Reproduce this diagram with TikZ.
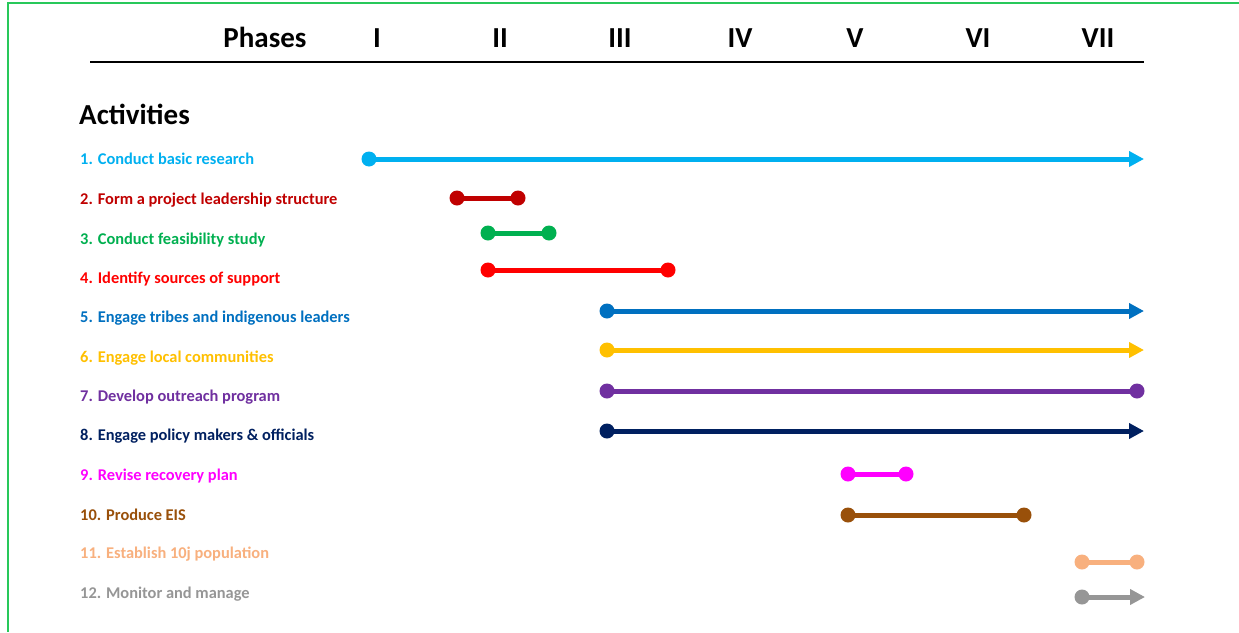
\documentclass[tikz,border=0pt]{standalone}
\usepackage{fontspec}
\setmainfont{Carlito}
\usetikzlibrary{arrows.meta}
\definecolor{cA}{RGB}{0,176,240}
\definecolor{cB}{RGB}{192,0,0}
\definecolor{cC}{RGB}{0,176,80}
\definecolor{cD}{RGB}{255,0,0}
\definecolor{cE}{RGB}{0,112,192}
\definecolor{cF}{RGB}{255,192,0}
\definecolor{cG}{RGB}{112,48,160}
\definecolor{cH}{RGB}{0,32,96}
\definecolor{cI}{RGB}{255,0,255}
\definecolor{cJ}{RGB}{153,80,10}
\definecolor{cK}{RGB}{248,176,126}
\definecolor{cL}{RGB}{150,150,150}
\definecolor{frameGreen}{RGB}{40,200,90}
\tikzset{
  phase/.style={anchor=base, font=\fontsize{29}{31}\selectfont\bfseries, inner sep=0pt},
  act/.style={anchor=base west, font=\fontsize{16.4}{18}\selectfont\bfseries, inner sep=0pt},
  bar/.style={line width=5pt},
  arr/.style={bar, -{Triangle[length=15pt,width=15pt]}}
}
\newcommand{\bardot}[2]{\fill[#1] (#2) circle (7.5pt);}
\begin{document}
\begin{tikzpicture}[x=1pt,y=-1pt]
\useasboundingbox (0,0) rectangle (1239,632);
\fill[white] (0,0) rectangle (1239,632);
% frame lines
\coordinate (fc) at (8,3);
\coordinate (fr) at (1239,3);
\coordinate (fb) at (8,632);
\draw[frameGreen, line width=1.5pt] (fr) -- (fc) -- (fb);
% header
\node[phase] (ph) at (265,47) {Phases};
\node[phase] (p1) at (377,47) {I};
\node[phase] (p2) at (500,47) {II};
\node[phase] (p3) at (620,47) {III};
\node[phase] (p4) at (740,47) {IV};
\node[phase] (p5) at (855,47) {V};
\node[phase] (p6) at (978,47) {VI};
\node[phase] (p7) at (1098,47) {VII};
\coordinate (rl) at (90,62);
\coordinate (rr) at (1144,62);
\draw[line width=1.5pt] (rl) -- (rr);
\node[phase, anchor=base west] (acts) at (79,124) {Activities};
% labels
\node[act, text=cA] (l1) at (80,164) {1. Conduct basic research};
\node[act, text=cB] (l2) at (80,204) {2. Form a project leadership structure};
\node[act, text=cC] (l3) at (80,244) {3. Conduct feasibility study};
\node[act, text=cD] (l4) at (80,283) {4. Identify sources of support};
\node[act, text=cE] (l5) at (80,322) {5. Engage tribes and indigenous leaders};
\node[act, text=cF] (l6) at (80,362) {6. Engage local communities};
\node[act, text=cG] (l7) at (80,401) {7. Develop outreach program};
\node[act, text=cH] (l8) at (80,440) {8. Engage policy makers \& officials};
\node[act, text=cI] (l9) at (80,480) {9. Revise recovery plan};
\node[act, text=cJ] (l10) at (80,520) {10. Produce EIS};
\node[act, text=cK] (l11) at (80,558) {11. Establish 10j population};
\node[act, text=cL] (l12) at (80,598) {12. Monitor and manage};
% bar end points
\coordinate (s1) at (369,159);  \coordinate (e1) at (1144,159);
\coordinate (s2) at (457,198);  \coordinate (e2) at (518,198);
\coordinate (s3) at (488,233);  \coordinate (e3) at (549,233);
\coordinate (s4) at (488,270);  \coordinate (e4) at (668,270);
\coordinate (s5) at (607,311);  \coordinate (e5) at (1144,311);
\coordinate (s6) at (607,350);  \coordinate (e6) at (1144,350);
\coordinate (s7) at (607,391);  \coordinate (e7) at (1137,391);
\coordinate (s8) at (607,431);  \coordinate (e8) at (1144,431);
\coordinate (s9) at (848,474);  \coordinate (e9) at (906,474);
\coordinate (s10) at (848,515); \coordinate (e10) at (1024,515);
\coordinate (s11) at (1082,562); \coordinate (e11) at (1137,562);
\coordinate (s12) at (1082,597); \coordinate (e12) at (1145,597);
% bars
\draw[arr, cA] (s1) -- (e1); \bardot{cA}{s1}
\draw[bar, cB] (s2) -- (e2); \bardot{cB}{s2} \bardot{cB}{e2}
\draw[bar, cC] (s3) -- (e3); \bardot{cC}{s3} \bardot{cC}{e3}
\draw[bar, cD] (s4) -- (e4); \bardot{cD}{s4} \bardot{cD}{e4}
\draw[arr, cE] (s5) -- (e5); \bardot{cE}{s5}
\draw[arr, cF] (s6) -- (e6); \bardot{cF}{s6}
\draw[bar, cG] (s7) -- (e7); \bardot{cG}{s7} \bardot{cG}{e7}
\draw[arr, cH] (s8) -- (e8); \bardot{cH}{s8}
\draw[bar, cI] (s9) -- (e9); \bardot{cI}{s9} \bardot{cI}{e9}
\draw[bar, cJ] (s10) -- (e10); \bardot{cJ}{s10} \bardot{cJ}{e10}
\draw[bar, cK] (s11) -- (e11); \bardot{cK}{s11} \bardot{cK}{e11}
\draw[arr, cL] (s12) -- (e12); \bardot{cL}{s12}
\end{tikzpicture}
\end{document}
